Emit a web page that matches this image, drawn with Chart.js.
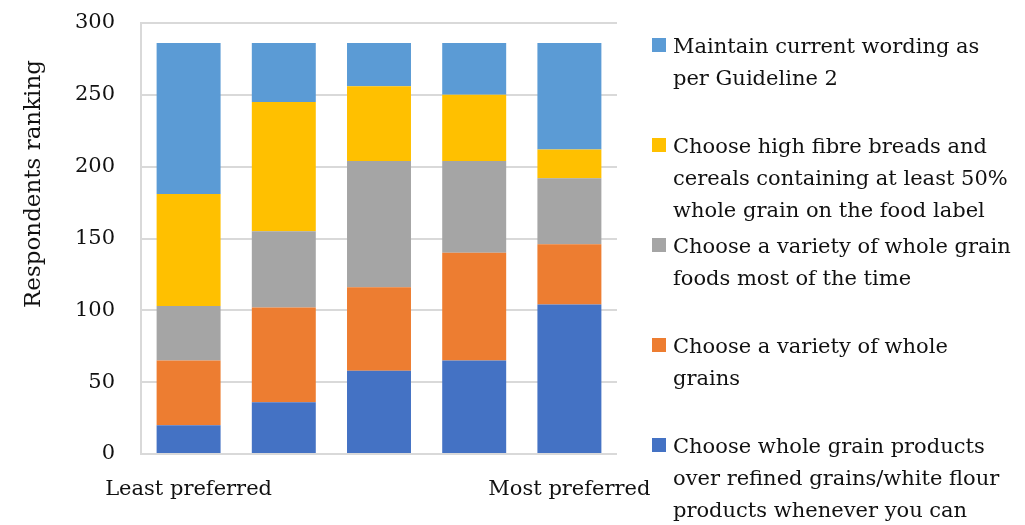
<!DOCTYPE html>
<html>
<head>
<meta charset="utf-8">
<script src="https://cdn.jsdelivr.net/npm/chart.js@4/dist/chart.umd.min.js"></script>
<style>
  html, body { margin: 0; padding: 0; background: #fff; }
</style>
</head>
<body>
<canvas id="rankingChart" width="1025" height="525"></canvas>
<script>
// ==========================
// Data
// ==========================
const categories = ["Least preferred", "", "", "", "Most preferred"];
const yTicks = [0, 50, 100, 150, 200, 250, 300];

// series, bottom of the stack first
const wholeGrainProducts = [20, 36, 58, 65, 104];
const varietyWholeGrains = [45, 66, 58, 75, 42];
const varietyFoodsMostTime = [38, 53, 88, 64, 46];
const highFibreBreads = [78, 90, 52, 46, 20];
const maintainWording = [105, 41, 30, 36, 74];

// legend text, split in lines as in the reference
const seriesNames = [
  ["Choose whole grain products", "over refined grains/white flour", "products whenever you can"],
  ["Choose a variety of whole", "grains"],
  ["Choose a variety of whole grain", "foods most of the time"],
  ["Choose high fibre breads and", "cereals containing at least 50%", "whole grain on the food label"],
  ["Maintain current wording as", "per Guideline 2"]
];
const seriesValues = [wholeGrainProducts, varietyWholeGrains, varietyFoodsMostTime, highFibreBreads, maintainWording];
const yTitle = "Respondents ranking";

// ==========================
// Styles
// ==========================
const colors = ["#4472C4", "#ED7D31", "#A5A5A5", "#FFC000", "#5B9BD5"];
const FONT = "'DejaVu Serif', serif";
const TEXT = "#111";
const GRID = "#d9d9d9";

// y axis title, drawn by hand so it sits where Excel put it
const yTitlePlugin = {
  id: "yTitle",
  afterDraw(chart) {
    const ctx = chart.ctx;
    ctx.save();
    ctx.translate(34, 184);
    ctx.rotate(-Math.PI / 2);
    ctx.font = "23px " + FONT;
    ctx.fillStyle = TEXT;
    ctx.textAlign = "center";
    ctx.textBaseline = "middle";
    ctx.fillText(yTitle, 0, 0);
    ctx.restore();
  }
};

// legend on the right, top entry = top of the stack
const legendPlugin = {
  id: "sideLegend",
  afterDraw(chart) {
    const ctx = chart.ctx;
    ctx.save();
    ctx.font = "21px " + FONT;
    ctx.textBaseline = "alphabetic";
    const n = chart.data.datasets.length;
    for (let i = 0; i < n; i++) {
      const ds = chart.data.datasets[n - 1 - i];
      const base = 53 + i * 100;
      ctx.fillStyle = ds.backgroundColor;
      ctx.fillRect(652, base - 15, 14, 14);
      ctx.fillStyle = TEXT;
      ds.lines.forEach((line, k) => ctx.fillText(line, 673, base + k * 32));
    }
    ctx.restore();
  }
};

new Chart(document.getElementById("rankingChart"), {
  type: "bar",
  data: {
    labels: categories,
    datasets: seriesValues.map((vals, i) => ({
      label: seriesNames[i].join(" "),
      lines: seriesNames[i],
      data: vals,
      backgroundColor: colors[i],
      borderWidth: 0,
      barPercentage: 0.672,
      categoryPercentage: 1
    }))
  },
  options: {
    responsive: false,
    animation: false,
    layout: { padding: { top: 23, right: 408, bottom: 0, left: 0 } },
    plugins: {
      legend: { display: false },
      tooltip: { enabled: false }
    },
    scales: {
      x: {
        stacked: true,
        grid: { display: false, drawTicks: false },
        border: { display: false },
        ticks: {
          autoSkip: false, maxRotation: 0, minRotation: 0,
          padding: 23, color: TEXT, font: { family: FONT, size: 21 }
        },
        afterFit: s => { s.height = 71; }
      },
      y: {
        stacked: true,
        min: 0, max: 300,
        afterBuildTicks: s => { s.ticks = yTicks.map(v => ({ value: v })); },
        // invisible tick marks push the labels away from the axis
        grid: { color: GRID, lineWidth: 2, drawTicks: true, tickLength: 16, tickColor: "rgba(0,0,0,0)" },
        border: { display: true, color: GRID, width: 2 },
        ticks: { padding: 10, color: TEXT, font: { family: FONT, size: 21 } },
        afterFit: s => { s.width = 141; }
      }
    }
  },
  plugins: [yTitlePlugin, legendPlugin]
});
</script>
</body>
</html>
